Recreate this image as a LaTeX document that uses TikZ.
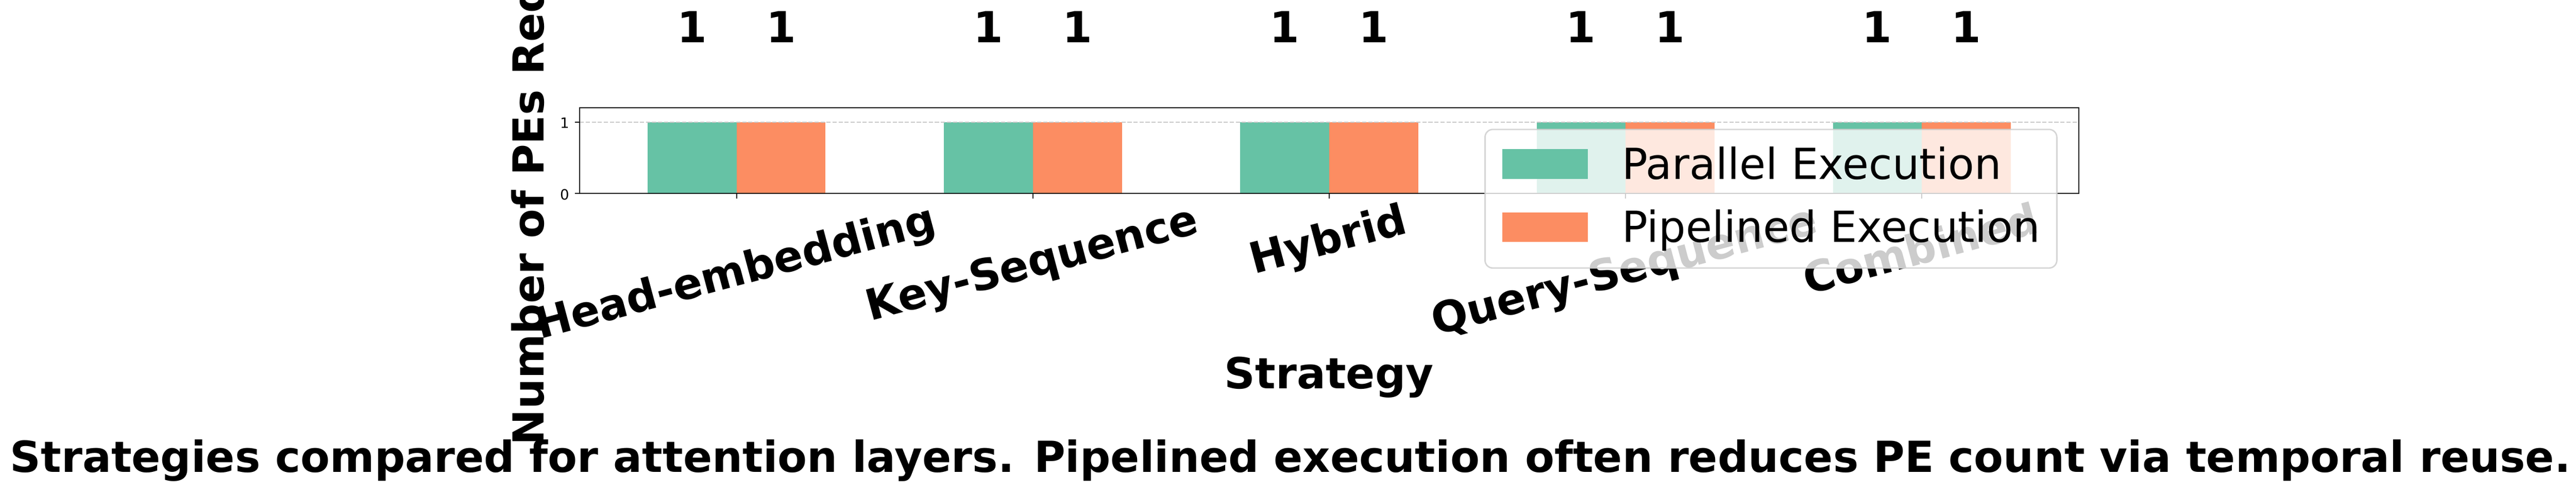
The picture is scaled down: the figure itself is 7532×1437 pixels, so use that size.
\documentclass[tikz,border=0pt]{standalone}
\usepackage{fontspec}
\setmainfont{DejaVu Sans}
\definecolor{setgreen}{HTML}{66C2A5}
\definecolor{setorange}{HTML}{FC8D62}
\definecolor{gridgray}{HTML}{C8C8C8}
\definecolor{legedge}{HTML}{CCCCCC}
\tikzset{
  big/.style={font=\fontsize{12.5}{15}\selectfont\bfseries, inner sep=0pt, outer sep=0pt},
  rotlab/.style={big, text height=0.76em, text depth=0.208em},
  ticklab/.style={font=\fontsize{4.17}{5}\selectfont, inner sep=0pt, anchor=base east},
  legtext/.style={font=\fontsize{12.5}{15}\selectfont, inner sep=0pt, anchor=base west},
  spine/.style={line width=0.333pt},
  gridline/.style={gridgray, line width=0.333pt, dash pattern=on 1.23pt off 0.53pt},
  legbox/.style={draw=legedge, line width=0.42pt, fill=white, fill opacity=0.8, draw opacity=0.8, rounded corners=2.3pt}
}
\begin{document}
\begin{tikzpicture}[x=0.1pt, y=-0.1pt]
\useasboundingbox (0,0) rectangle (7532,1437);
\clip (0,0) rectangle (7532,1437);
% bars
\foreach \i in {0,...,4}{
  \pgfmathsetmacro{\xc}{2154+866.25*\i}
  \fill[setgreen] (\xc-259.9,565) rectangle (\xc,357);
  \fill[setorange] (\xc,565) rectangle (\xc+259.9,357);
  \node[big, anchor=base] (vg\i) at (\xc-130,125) {1};
  \node[big, anchor=base] (vo\i) at (\xc+130,125) {1};
  \draw[spine] (\xc,565) -- (\xc,579.6);
}
% grid
\draw[gridline] (1695,357) -- (6078,357);
% spines
\draw[spine] (1695,315.4) rectangle (6078,565);
% y ticks
\draw[spine] (1680.4,565) -- (1695,565);
\draw[spine] (1680.4,357) -- (1695,357);
\node[ticklab] (yt0) at (1666,583) {0};
\node[ticklab] (yt1) at (1666,375) {1};
% y label
\node[rotlab, rotate=90] (ylab) at (1562.5,440.5) {Number of PEs Required};
% x tick labels
\node[rotlab, rotate=15] (xl0) at (2154,808) {Head-embedding};
\node[rotlab, rotate=15] (xl1) at (3020.25,782) {Key-Sequence};
\node[rotlab, rotate=15] (xl2) at (3886.5,713) {Hybrid};
\node[rotlab, rotate=15] (xl3) at (4752.75,803) {Query-Sequence};
\node[rotlab, rotate=15] (xl4) at (5619,743) {Combined};
% x label
\node[big, anchor=base] (xlab) at (3886,1135) {Strategy};
% caption
\node[big, anchor=base] (cap) at (3773,1379) {Strategies compared for attention layers. Pipelined execution often reduces PE count via temporal reuse.};
% legend
\draw[legbox] (4342,378) rectangle (6014,783);
\fill[setgreen] (4392,436) rectangle (4642,523);
\fill[setorange] (4392,620) rectangle (4642,707);
\node[legtext] (lg1) at (4741,524) {Parallel Execution};
\node[legtext] (lg2) at (4741,708) {Pipelined Execution};
\end{tikzpicture}
\end{document}
